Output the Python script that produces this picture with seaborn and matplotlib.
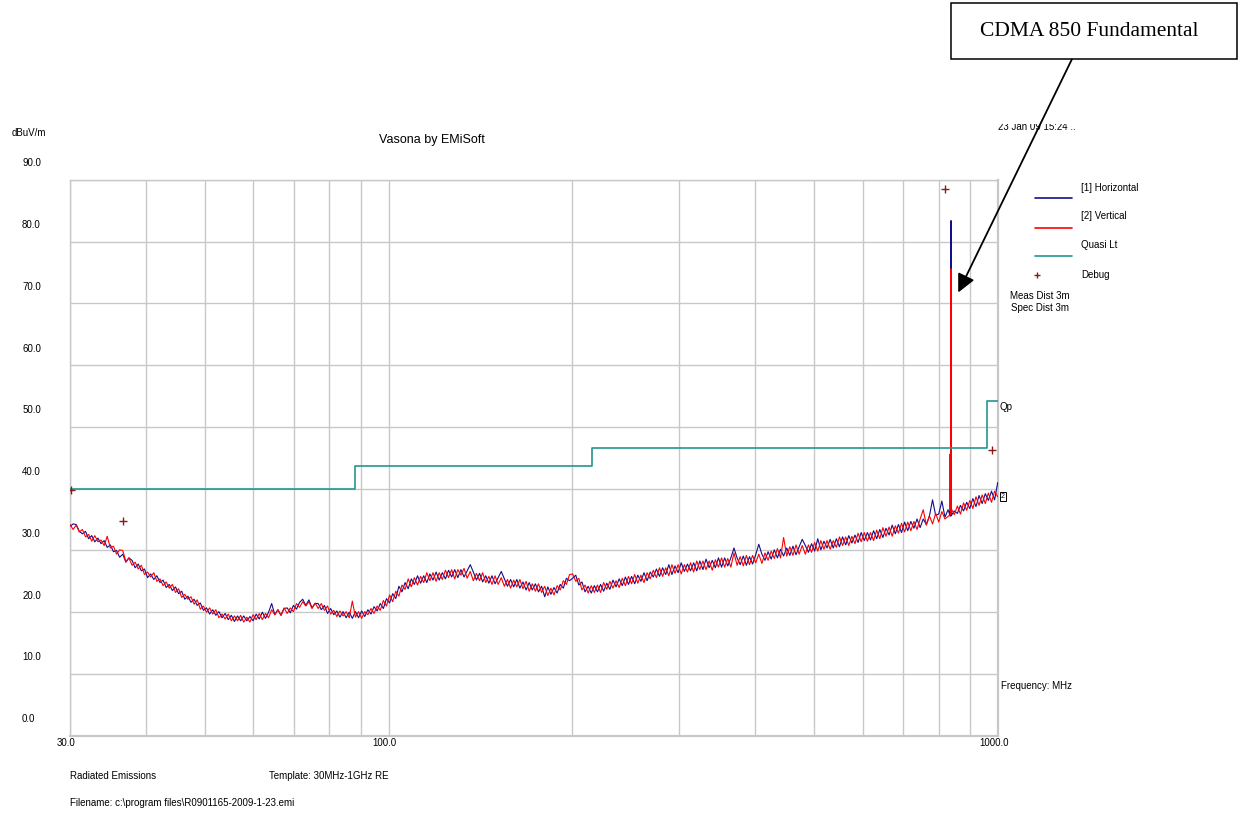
import numpy as np
import pandas as pd
import matplotlib
matplotlib.use("Agg")
import matplotlib.pyplot as plt
import matplotlib.transforms as mtransforms
from matplotlib.lines import Line2D
from matplotlib.patches import Rectangle, FancyArrowPatch
from matplotlib.ticker import FixedLocator, NullFormatter
import seaborn as sns

# ---------------- data ----------------
F_START, F_STOP, N_POINTS = 30.0, 1000.0, 300   # sweep grid (MHz)

horizontal_dbuv = [
    33.9, 34.3, 34.2, 33.1, 32.7, 33.1, 31.9, 32.4, 31.4, 32.0,
    31.1, 31.6, 30.5, 30.9, 29.8, 30.0, 28.9, 29.4, 28.1, 28.8,
    28.4, 27.2, 27.8, 26.7, 27.0, 25.6, 26.2, 25.3, 25.9, 24.8,
    25.2, 24.0, 24.5, 23.5, 24.1, 23.0, 23.4, 22.1, 22.6, 21.6,
    22.1, 21.1, 21.5, 20.3, 20.7, 19.7, 20.4, 19.5, 20.1, 19.1,
    19.8, 18.8, 19.5, 18.5, 19.4, 18.6, 19.4, 18.6, 19.3, 18.6,
    19.7, 18.9, 20.0, 19.0, 20.0, 21.4, 19.6, 20.4, 19.5, 20.6,
    20.7, 19.9, 21.1, 20.5, 21.6, 22.1, 21.1, 22.0, 20.7, 21.4,
    21.4, 20.4, 21.1, 19.8, 20.6, 19.6, 20.2, 19.2, 20.1, 19.1,
    20.0, 19.0, 20.1, 19.1, 20.2, 19.3, 20.4, 19.7, 20.9, 20.2,
    21.4, 20.6, 22.2, 21.5, 23.0, 22.2, 24.2, 23.3, 24.8, 23.8,
    25.4, 24.5, 25.9, 24.7, 25.9, 24.8, 26.2, 25.2, 26.5, 25.2,
    26.4, 25.4, 26.8, 25.7, 26.9, 25.6, 26.9, 25.7, 26.7, 27.7,
    26.5, 25.2, 26.3, 24.9, 25.9, 24.7, 25.9, 24.6, 25.6, 26.6,
    25.4, 24.2, 25.3, 24.1, 25.3, 23.9, 24.9, 23.6, 24.8, 23.6,
    24.6, 23.3, 24.2, 22.5, 24.1, 22.9, 24.0, 23.1, 24.5, 23.9,
    25.5, 25.1, 25.5, 26.0, 24.4, 24.9, 23.3, 24.2, 23.1, 24.3,
    23.3, 24.5, 23.4, 24.7, 23.7, 25.2, 24.1, 25.4, 24.3, 25.7,
    24.5, 25.8, 24.6, 26.0, 25.0, 26.4, 25.1, 26.5, 25.7, 27.0,
    25.8, 27.2, 26.1, 27.7, 26.1, 27.5, 26.4, 28.0, 26.6, 27.8,
    26.7, 28.0, 26.7, 28.3, 26.9, 28.6, 27.2, 28.4, 27.2, 28.8,
    27.3, 28.8, 27.5, 28.8, 30.4, 28.8, 27.7, 29.1, 27.6, 29.0,
    27.8, 29.3, 31.0, 29.4, 28.4, 29.8, 28.6, 30.1, 28.8, 30.2,
    29.1, 30.4, 29.2, 30.7, 29.3, 30.6, 31.8, 30.8, 29.7, 31.1,
    29.9, 31.9, 30.1, 31.5, 30.4, 31.8, 30.4, 31.9, 30.6, 32.2,
    30.9, 32.4, 31.2, 32.5, 31.3, 32.9, 31.6, 32.9, 31.7, 33.2,
    31.9, 33.4, 32.1, 33.6, 32.5, 34.1, 32.7, 34.2, 32.9, 34.6,
    33.2, 34.7, 33.6, 35.1, 33.7, 35.1, 34.2, 35.6, 38.2, 35.7,
    35.9, 38.0, 35.4, 36.6, 35.6, 36.4, 36.0, 37.3, 36.4, 37.8,
    36.8, 38.4, 37.1, 38.9, 37.6, 39.2, 38.1, 39.6, 38.2, 41.0,
]

vertical_dbuv = [
    34.2, 33.4, 34.1, 33.0, 33.4, 32.2, 32.6, 31.5, 32.4, 31.4,
    31.7, 30.8, 32.3, 30.4, 30.7, 29.4, 30.1, 30.0, 28.2, 28.8,
    27.6, 28.1, 27.0, 27.6, 26.1, 26.5, 25.7, 26.4, 25.0, 25.4,
    24.3, 24.9, 23.9, 24.5, 23.2, 23.8, 22.4, 22.9, 22.1, 22.5,
    21.3, 22.0, 20.5, 21.0, 20.0, 20.7, 19.7, 20.4, 19.1, 19.7,
    18.9, 19.7, 18.6, 19.4, 18.6, 19.5, 18.4, 19.2, 18.4, 19.6,
    18.8, 19.8, 18.8, 19.8, 19.1, 20.4, 19.6, 20.4, 19.5, 20.7,
    19.8, 20.7, 20.1, 21.4, 20.8, 21.7, 21.0, 21.7, 20.6, 21.5,
    20.6, 21.4, 20.3, 21.0, 19.7, 20.3, 19.3, 20.2, 19.4, 20.1,
    19.1, 21.8, 19.2, 20.1, 19.0, 20.1, 19.6, 20.6, 19.8, 21.0,
    20.3, 21.9, 21.0, 22.8, 21.7, 23.4, 22.6, 24.4, 23.7, 25.4,
    24.1, 25.6, 24.4, 25.8, 24.8, 26.4, 25.1, 26.4, 25.0, 26.4,
    25.3, 26.8, 25.6, 26.9, 25.4, 26.9, 26.0, 27.1, 25.5, 26.6,
    25.1, 26.3, 25.1, 26.4, 24.8, 25.8, 24.5, 25.9, 24.5, 25.6,
    24.2, 25.3, 23.9, 25.2, 24.1, 25.3, 23.8, 25.0, 23.4, 24.6,
    23.4, 24.6, 23.2, 24.2, 22.7, 23.9, 22.8, 24.3, 23.6, 25.1,
    24.5, 26.1, 26.2, 25.0, 25.5, 23.6, 24.4, 23.1, 24.3, 23.2,
    24.4, 23.2, 24.8, 23.7, 25.0, 23.9, 25.1, 24.0, 25.5, 24.3,
    25.8, 24.6, 26.1, 24.7, 26.0, 24.8, 26.4, 25.4, 26.8, 25.6,
    27.2, 25.8, 27.2, 25.9, 27.7, 26.3, 27.7, 26.2, 27.7, 26.5,
    28.0, 26.5, 28.3, 26.9, 28.3, 26.9, 28.3, 26.8, 28.5, 27.3,
    28.8, 27.3, 28.7, 27.3, 29.6, 27.6, 29.0, 27.5, 29.2, 27.7,
    29.2, 28.0, 29.4, 27.9, 29.6, 28.4, 29.9, 28.7, 30.3, 28.8,
    32.1, 29.1, 30.6, 29.2, 30.9, 29.4, 30.8, 29.4, 30.9, 29.7,
    31.3, 29.9, 31.6, 30.2, 31.6, 30.2, 31.6, 30.5, 32.2, 30.8,
    32.2, 30.8, 32.3, 31.1, 32.8, 31.4, 32.9, 31.5, 32.9, 31.6,
    33.3, 31.9, 33.7, 32.3, 33.8, 32.3, 34.0, 32.8, 34.4, 33.0,
    34.6, 33.2, 34.7, 33.4, 35.1, 36.6, 34.1, 35.6, 34.3, 36.0,
    34.6, 36.3, 35.1, 35.5, 36.8, 35.8, 37.2, 35.9, 37.7, 36.5,
    38.1, 36.8, 38.7, 37.3, 39.0, 37.6, 39.3, 37.8, 39.6, 38.7,
]

# CDMA 850 fundamental spikes (frequency MHz, base, peak, base)
spike_h_freq = [835.6, 835.6, 835.6, 838.3, 838.3, 838.3]
spike_h_dbuv = [35.6, 45.6, 35.6, 35.8, 83.4, 35.8]
spike_v_freq = [838.3, 838.3, 838.3]
spike_v_dbuv = [35.9, 75.6, 35.9]

limit_freq = [30, 88, 216, 960, 1000]
limit_dbuv = [40.0, 43.6, 46.6, 54.2, 54.2]

debug_freq = [30.1, 36.7, 820.0, 978.0]
debug_dbuv = [39.8, 34.7, 88.5, 46.3]

y_ticks = [0, 10, 20, 30, 40, 50, 60, 70, 80, 90]
x_major = [30, 100, 1000]
x_major_labels = ["30.0", "100.0", "1000.0"]
x_minor = [40, 50, 60, 70, 80, 90, 200, 300, 400, 500, 600, 700, 800, 900]

freq = np.geomspace(F_START, F_STOP, N_POINTS)
h_df = pd.concat([pd.DataFrame({"freq": freq, "db": horizontal_dbuv}),
                  pd.DataFrame({"freq": spike_h_freq, "db": spike_h_dbuv})],
                 ignore_index=True).sort_values("freq", kind="stable")
v_df = pd.concat([pd.DataFrame({"freq": freq, "db": vertical_dbuv}),
                  pd.DataFrame({"freq": spike_v_freq, "db": spike_v_dbuv})],
                 ignore_index=True).sort_values("freq", kind="stable")
lim = pd.DataFrame({"freq": limit_freq, "db": limit_dbuv})
dbg = pd.DataFrame({"freq": debug_freq, "db": debug_dbuv})

# ---------------- style ----------------
sns.set_theme(style="white")
plt.rcParams["font.family"] = ["Liberation Sans", "DejaVu Sans"]

W, H = 1239, 814
fig = plt.figure(figsize=(W / 100, H / 100), dpi=100)
fig.patch.set_facecolor("white")


def fx(x):
    return x / W


def fy(y):
    return 1 - y / H


ax = fig.add_axes([fx(70), fy(735.7), (997.7 - 70) / W, (735.7 - 180) / H])
ax.set_facecolor("white")

BLUE = "#10108a"
RED = "#ff0000"
TEAL = "#24968f"
DBG = "#8b1a1a"
GRID = "#c8c8c8"

sns.lineplot(data=h_df, x="freq", y="db", ax=ax, color=BLUE, lw=0.8,
             estimator=None, sort=False, zorder=3)
sns.lineplot(data=v_df, x="freq", y="db", ax=ax, color=RED, lw=0.8,
             estimator=None, sort=False, zorder=4)
sns.lineplot(data=lim, x="freq", y="db", ax=ax, color=TEAL, lw=1.2,
             estimator=None, sort=False, drawstyle="steps-post", zorder=5)
sns.scatterplot(data=dbg, x="freq", y="db", ax=ax, marker="+", color=DBG,
                s=28, linewidth=1.0, zorder=6)

ax.set_xscale("log")
ax.set_xlim(30, 1000)
ax.set_ylim(0, 90)
ax.set_xlabel("")
ax.set_ylabel("")

ax.xaxis.set_major_locator(FixedLocator(x_major))
ax.xaxis.set_minor_locator(FixedLocator(x_minor))
ax.xaxis.set_minor_formatter(NullFormatter())
ax.set_xticklabels(x_major_labels)
ax.set_yticks(y_ticks)
ax.set_yticklabels([f"{v:.1f}" for v in y_ticks])

ax.grid(True, which="both", color=GRID, lw=1.0)
ax.set_axisbelow(True)
for s in ax.spines.values():
    s.set_color(GRID)
    s.set_linewidth(1.0)
ax.spines["bottom"].set_linewidth(1.6)
ax.spines["right"].set_linewidth(1.6)

ax.tick_params(axis="both", which="both", length=0, labelsize=7, colors="black")
ax.tick_params(axis="y", pad=34.5)
ax.tick_params(axis="x", pad=1.5)
up = mtransforms.ScaledTranslation(0, 17.6 / 100, fig.dpi_scale_trans)
for lbl in ax.get_yticklabels():
    lbl.set_horizontalalignment("left")
    lbl.set_transform(lbl.get_transform() + up)
left = mtransforms.ScaledTranslation(-4 / 100, 0, fig.dpi_scale_trans)
for lbl in ax.get_xticklabels():
    lbl.set_transform(lbl.get_transform() + left)

# ---------------- texts ----------------
small = dict(fontsize=7, color="black", va="center", ha="left")
fig.text(fx(12), fy(133), "dBuV/m", **small)
fig.text(fx(432), fy(140), "Vasona by EMiSoft", fontsize=9, color="black",
         va="center", ha="center")
fig.text(fx(998), fy(129.5), "23 Jan 09 15:24 ..", fontsize=7, color="black",
         va="baseline", ha="left", zorder=1)
fig.add_artist(Rectangle((fx(985), fy(124)), (1110 - 985) / W, 40 / H,
                         transform=fig.transFigure, facecolor="white",
                         edgecolor="none", zorder=2))

# legend
leg = [("[1] Horizontal", BLUE, 187.7, 197.7),
       ("[2] Vertical", RED, 216, 227.7),
       ("Quasi Lt", TEAL, 245, 256)]
for label, col, ty, ly in leg:
    fig.text(fx(1081), fy(ty), label, **small)
    fig.add_artist(Line2D([fx(1035), fx(1072)], [fy(ly), fy(ly)], color=col,
                          lw=1.2, transform=fig.transFigure))
fig.text(fx(1081), fy(275), "Debug", **small)
fig.add_artist(Line2D([fx(1037)], [fy(275)], marker="+", color=DBG, ms=5,
                      mew=1.0, transform=fig.transFigure))

fig.text(fx(1010), fy(296), "Meas Dist 3m", **small)
fig.text(fx(1011), fy(308), "Spec Dist 3m", **small)
fig.text(fx(999), fy(407), "Qp", **small)
fig.text(fx(1001), fy(686), "Frequency: MHz", **small)
fig.text(fx(1001), fy(496.5), "2", fontsize=5, color="black", va="center",
         ha="left", bbox=dict(boxstyle="square,pad=0.1", fc="white",
                              ec="black", lw=0.7))

fig.text(fx(70), fy(776), "Radiated Emissions", **small)
fig.text(fx(269), fy(776), "Template: 30MHz-1GHz RE", **small)
fig.text(fx(70), fy(803), r"Filename: c:\program files\R0901165-2009-1-23.emi",
         **small)

# annotation box + arrow
fig.add_artist(Rectangle((fx(951), fy(59)), (1237 - 951) / W, (59 - 3.5) / H,
                         transform=fig.transFigure, facecolor="white",
                         edgecolor="black", lw=1.1, zorder=5))
fig.text(fx(1089), fy(31), "CDMA 850 Fundamental", fontsize=15.5,
         family=["Liberation Serif", "DejaVu Serif"], color="black",
         va="center", ha="center", zorder=6)
fig.add_artist(FancyArrowPatch((fx(1073), fy(57)), (fx(957), fy(295)),
                               transform=fig.transFigure,
                               arrowstyle="-|>,head_length=0.55,head_width=0.27",
                               mutation_scale=20, color="black", lw=1.3,
                               zorder=7))

fig.savefig("out.png", dpi=100, facecolor="white")
